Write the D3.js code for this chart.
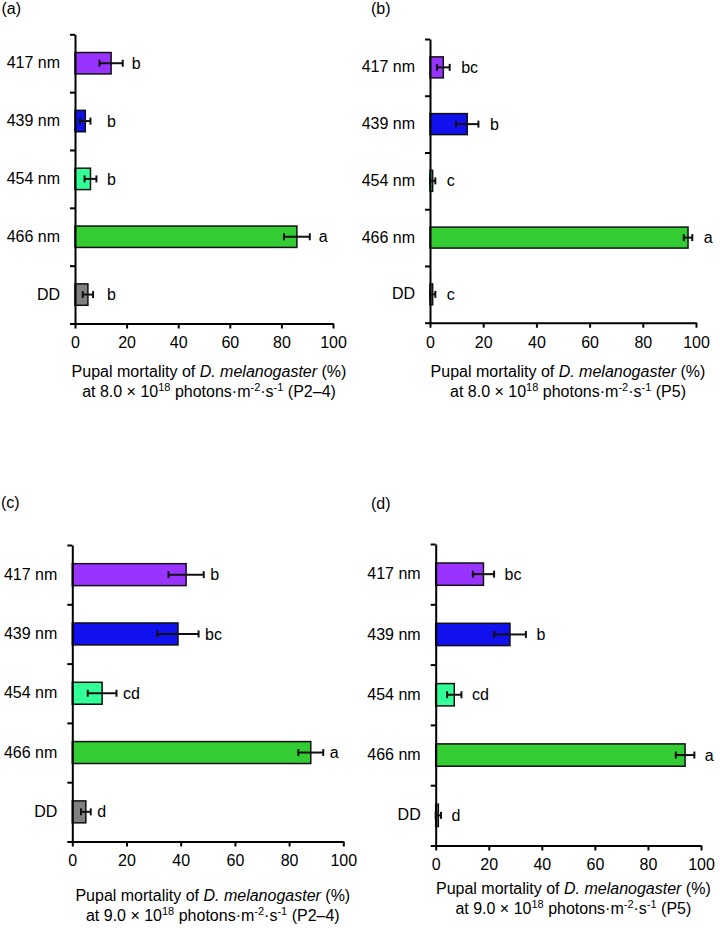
<!DOCTYPE html>
<html>
<head>
<meta charset="utf-8">
<script src="https://cdn.jsdelivr.net/npm/d3@7"></script>
<style>
  html, body { margin: 0; padding: 0; background: #fff; }
  svg { display: block; font-family: "Liberation Sans", Arial, sans-serif; }
</style>
</head>
<body>
<svg id="chart" width="720" height="928"></svg>
<script>
// ---- Data ----
const categories = ["417 nm", "439 nm", "454 nm", "466 nm", "DD"];
const barColors = ["#9933FF", "#1111EE", "#33FF99", "#33CC33", "#808080"];
const xTicks = [0, 20, 40, 60, 80, 100];

const valuesA = [14, 4, 6, 86, 5];
const errorsA = [4.5, 2, 2.3, 5, 2];
const lettersA = ["b", "b", "b", "a", "b"];

const valuesB = [5, 14, 1, 97, 1];
const errorsB = [2.4, 4.2, 1, 1.6, 1];
const lettersB = ["bc", "b", "c", "a", "c"];

const valuesC = [42, 39, 11, 88, 5];
const errorsC = [6.5, 7.6, 5.3, 4.6, 1.8];
const lettersC = ["b", "bc", "cd", "a", "d"];

const valuesD = [18, 28, 7, 94, 1];
const errorsD = [4, 6, 2.7, 3.5, 1];
const lettersD = ["bc", "b", "cd", "a", "d"];

const panelLabels = ["(a)", "(b)", "(c)", "(d)"];
const irradiances = ["8.0", "8.0", "9.0", "9.0"];
const stages = ["P2–4", "P5", "P2–4", "P5"];

// ---- Layout (positions only) ----
const layout = [
  { x0: 75,    x1: 333,   yTop: 34.3, yBot: 323.5, lx: 1.5, ly: 14,    t1: 376.5, gap: 9,    minOff: 32 },
  { x0: 430,   x1: 696,   yTop: 39,   yBot: 322.7, lx: 371, ly: 13.5,  t1: 376.5, gap: 11.5, minOff: 0 },
  { x0: 72.3,  x1: 343.3, yTop: 545,  yBot: 841.5, lx: 1,   ly: 507.5, t1: 901,   gap: 6.5,  minOff: 0 },
  { x0: 435.7, x1: 701,   yTop: 544,  yBot: 845.5, lx: 371, ly: 508.5, t1: 893.5, gap: 10.5, minOff: 0 }
];

const panelData = [
  { values: valuesA, errors: errorsA, letters: lettersA },
  { values: valuesB, errors: errorsB, letters: lettersB },
  { values: valuesC, errors: errorsC, letters: lettersC },
  { values: valuesD, errors: errorsD, letters: lettersD }
];

const svg = d3.select("#chart");
const FONT = 16;

panelData.forEach((pd, i) => {
  const L = layout[i];
  const g = svg.append("g");

  const x = d3.scaleLinear().domain([0, 100]).range([L.x0, L.x1]);
  const y = d3.scaleBand().domain(categories).range([L.yTop, L.yBot])
    .paddingInner(0.63).paddingOuter(0.315);
  const yb = d3.scaleLinear().domain([0, categories.length]).range([L.yTop, L.yBot]);

  const rows = categories.map((c, k) => ({
    cat: c, v: pd.values[k], e: pd.errors[k], letter: pd.letters[k], color: barColors[k]
  }));

  // bars
  g.selectAll("rect.bar").data(rows).enter().append("rect")
    .attr("class", "bar")
    .attr("x", x(0))
    .attr("y", d => y(d.cat))
    .attr("width", d => Math.max(0, x(d.v) - x(0)))
    .attr("height", y.bandwidth())
    .attr("fill", d => d.color)
    .attr("stroke", "#111")
    .attr("stroke-width", 1.5);

  // error bars
  const eb = g.selectAll("g.err").data(rows).enter().append("g").attr("class", "err")
    .attr("stroke", "#111").attr("stroke-width", 2);
  eb.append("line")
    .attr("x1", d => x(Math.max(0, d.v - d.e))).attr("x2", d => x(d.v + d.e))
    .attr("y1", d => y(d.cat) + y.bandwidth() / 2).attr("y2", d => y(d.cat) + y.bandwidth() / 2);
  eb.append("line")
    .attr("x1", d => x(d.v + d.e)).attr("x2", d => x(d.v + d.e))
    .attr("y1", d => y(d.cat) + y.bandwidth() / 2 - 3.5).attr("y2", d => y(d.cat) + y.bandwidth() / 2 + 3.5);
  eb.append("line")
    .attr("x1", d => x(Math.max(0, d.v - d.e))).attr("x2", d => x(Math.max(0, d.v - d.e)))
    .attr("y1", d => y(d.cat) + y.bandwidth() / 2 - 3.5).attr("y2", d => y(d.cat) + y.bandwidth() / 2 + 3.5);

  // significance letters
  g.selectAll("text.letter").data(rows).enter().append("text")
    .attr("class", "letter")
    .attr("x", d => Math.max(x(d.v + d.e) + L.gap, L.x0 + L.minOff))
    .attr("y", d => y(d.cat) + y.bandwidth() / 2)
    .attr("dy", "0.35em")
    .attr("font-size", FONT)
    .attr("fill", "#000")
    .text(d => d.letter);

  // y axis: boundary ticks
  const yAxisTicks = d3.axisLeft(yb).tickValues(d3.range(categories.length + 1))
    .tickSize(5).tickSizeOuter(0).tickFormat("");
  const ya = g.append("g").attr("transform", `translate(${L.x0},0)`).call(yAxisTicks);
  ya.selectAll("path, line").attr("stroke", "#000").attr("stroke-width", 2);

  // y axis: category labels
  const yAxisLabels = d3.axisLeft(y).tickSize(0).tickPadding(15);
  const yl = g.append("g").attr("transform", `translate(${L.x0},0)`).call(yAxisLabels);
  yl.select(".domain").remove();
  yl.selectAll("text").attr("font-size", FONT).attr("fill", "#000")
    .attr("font-family", "Liberation Sans, Arial, sans-serif");

  // x axis
  const xAxis = d3.axisBottom(x).tickValues(xTicks).tickSize(5).tickSizeOuter(0).tickPadding(8.5);
  const xa = g.append("g").attr("transform", `translate(0,${L.yBot})`).call(xAxis);
  xa.selectAll("path, line").attr("stroke", "#000").attr("stroke-width", 2);
  xa.selectAll("text").attr("font-size", FONT).attr("fill", "#000")
    .attr("font-family", "Liberation Sans, Arial, sans-serif");

  // panel label
  svg.append("text").attr("x", L.lx).attr("y", L.ly)
    .attr("font-size", FONT).attr("fill", "#000").text(panelLabels[i]);

  // axis title
  const cx = (L.x0 + L.x1) / 2 + 5;
  const t1 = svg.append("text").attr("x", cx).attr("y", L.t1)
    .attr("text-anchor", "middle").attr("font-size", FONT).attr("fill", "#000");
  t1.append("tspan").text("Pupal mortality of ");
  t1.append("tspan").attr("font-style", "italic").text("D. melanogaster");
  t1.append("tspan").text(" (%)");

  const t2 = svg.append("text").attr("x", cx).attr("y", L.t1 + 20)
    .attr("text-anchor", "middle").attr("font-size", FONT).attr("fill", "#000");
  t2.append("tspan").text(`at ${irradiances[i]} × 10`);
  t2.append("tspan").attr("font-size", 11).attr("dy", -6).text("18");
  t2.append("tspan").attr("dy", 6).text(" photons·m");
  t2.append("tspan").attr("font-size", 11).attr("dy", -6).text("-2");
  t2.append("tspan").attr("dy", 6).text("·s");
  t2.append("tspan").attr("font-size", 11).attr("dy", -6).text("-1");
  t2.append("tspan").attr("dy", 6).text(` (${stages[i]})`);
});
</script>
</body>
</html>
